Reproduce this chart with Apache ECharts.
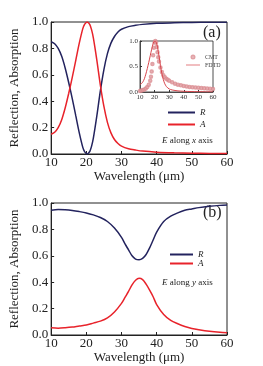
<!DOCTYPE html>
<html><head><meta charset="utf-8">
<script src="https://cdn.jsdelivr.net/npm/echarts@6/dist/echarts.min.js"></script>
<style>html,body{margin:0;padding:0;background:#fff}#c{width:263px;height:366px}</style>
</head><body><div id="c"></div>
<script>
// Panel (a): E along x axis
const aWave = [10,11,12,13,14,15,16,17,18,19,19.5,20,20.2,20.5,21,21.5,22,23,24,25,26,27,28,29,30,32,34,36,40,45,50,55,60];
const aR    = [0.85,0.835,0.80,0.74,0.65,0.54,0.42,0.29,0.16,0.05,0.018,0.003,0.0,0.004,0.02,0.06,0.12,0.29,0.48,0.64,0.76,0.84,0.89,0.925,0.945,0.965,0.975,0.982,0.99,0.994,0.997,0.998,0.999];
const aA    = [0.15,0.165,0.20,0.26,0.35,0.46,0.58,0.71,0.84,0.95,0.982,0.997,1.0,0.996,0.98,0.94,0.88,0.71,0.52,0.36,0.24,0.16,0.11,0.08,0.06,0.04,0.03,0.022,0.014,0.009,0.006,0.004,0.003];
// Inset: CMT points
const cmtWave = [10,11,12,13,14,15,16,17,17.5,18,18.5,19,19.5,20,20.5,21,21.5,22,22.5,23,24,25,26,27,28,29,30,32,34,36,38,40,42,44,46,48,50,52,54,56,58,60];
const cmtA    = [0.02,0.03,0.04,0.05,0.07,0.10,0.14,0.22,0.30,0.40,0.55,0.72,0.87,0.97,1.0,0.97,0.88,0.78,0.68,0.60,0.48,0.39,0.33,0.29,0.26,0.24,0.22,0.19,0.16,0.14,0.13,0.12,0.11,0.10,0.095,0.09,0.085,0.08,0.075,0.07,0.065,0.06];
// Panel (b): E along y axis
const bWave = [10,12,14,16,18,20,22,24,26,28,30,31,32,33,34,35,36,37,38,39,40,42,44,46,48,50,52,55,58,60];
const bR    = [0.945,0.95,0.948,0.943,0.935,0.925,0.91,0.89,0.86,0.81,0.74,0.69,0.645,0.60,0.575,0.57,0.58,0.61,0.66,0.72,0.78,0.86,0.90,0.925,0.945,0.955,0.965,0.975,0.982,0.985];
const bA    = [0.055,0.052,0.055,0.06,0.068,0.075,0.09,0.105,0.13,0.175,0.24,0.285,0.33,0.38,0.415,0.43,0.42,0.385,0.34,0.29,0.23,0.155,0.11,0.085,0.065,0.05,0.04,0.028,0.02,0.017];
const xTicks = [10,20,30,40,50,60];
const yTicks = [0.0,0.2,0.4,0.6,0.8,1.0];

const navy = '#23235e', red = '#e8232b', pink = '#d98a8e';
const serif = 'Liberation Serif';
const pairs = (xs, ys) => xs.map((x,i)=>[x, ys[i]]);

function xAx(gi, show){
  return {type:'value', gridIndex:gi, min:10, max:60, interval:10,
    name: show ? 'Wavelength (\u03bcm)' : '', nameLocation:'middle', nameGap:16,
    nameTextStyle:{fontFamily:serif, fontSize:13, color:'#222'},
    axisLine:{show:true, onZero:false, lineStyle:{color:'#222', width:1}},
    axisTick:{show:true, inside:true, length:3, lineStyle:{color:'#222'}},
    axisLabel:{fontFamily:serif, fontSize:13, color:'#222', margin:2},
    splitLine:{show:false}};
}
function yAx(gi){
  return {type:'value', gridIndex:gi, min:0, max:1, interval:0.2,
    name:'Reflection, Absorption', nameLocation:'middle', nameGap:22,
    nameTextStyle:{fontFamily:serif, fontSize:13, color:'#222'},
    axisLine:{show:true, lineStyle:{color:'#222', width:1}},
    axisTick:{show:true, inside:true, length:3, lineStyle:{color:'#222'}},
    axisLabel:{fontFamily:serif, fontSize:13, color:'#222', margin:3, formatter:v=>v.toFixed(1)},
    splitLine:{show:false}};
}

const chart = echarts.init(document.getElementById('c'), null, {renderer:'canvas'});
chart.setOption({
  animation:false,
  grid:[
    {left:48, right:36, top:22, bottom:212, show:true, borderColor:'#222', borderWidth:1, backgroundColor:'transparent'},
    {left:140, right:50, top:41, bottom:274, show:true, borderColor:'#222', borderWidth:0.8, backgroundColor:'transparent'},
    {left:48, right:36, top:203, bottom:31, show:true, borderColor:'#222', borderWidth:1, backgroundColor:'transparent'}
  ],
  xAxis:[
    xAx(0,true),
    {type:'value', gridIndex:1, min:10, max:60, interval:10,
      axisLine:{show:true, onZero:false, lineStyle:{color:'#333', width:0.8}},
      axisTick:{show:true, inside:true, length:2, lineStyle:{color:'#333'}},
      axisLabel:{fontFamily:serif, fontSize:7, color:'#333', margin:2}, splitLine:{show:false}},
    xAx(2,true)
  ],
  yAxis:[
    yAx(0),
    {type:'value', gridIndex:1, min:0, max:1, interval:0.5,
      axisLine:{show:true, lineStyle:{color:'#333', width:0.8}},
      axisTick:{show:true, inside:true, length:2, lineStyle:{color:'#333'}},
      axisLabel:{fontFamily:serif, fontSize:7, color:'#333', margin:2, formatter:v=>v.toFixed(1)}, splitLine:{show:false}},
    yAx(2)
  ],
  legend:[
    {orient:'vertical', left:163, top:103, itemWidth:27, itemHeight:2, itemGap:3, icon:'rect',
      data:['R','A'], textStyle:{fontFamily:serif, fontStyle:'italic', fontSize:9, color:'#222'}, selectedMode:false},
    {orient:'vertical', left:165, top:245, itemWidth:23, itemHeight:2, itemGap:0, icon:'rect',
      data:['R ','A '], textStyle:{fontFamily:serif, fontStyle:'italic', fontSize:9, color:'#222'}, selectedMode:false},
    {orient:'vertical', left:181, top:49, itemWidth:14, itemHeight:3, itemGap:2,
      data:[{name:'CMT', icon:'emptyCircle', itemStyle:{borderWidth:0.6}},{name:'FDTD', icon:'path://M0,0 L20,0 L20,1 L0,1 Z'}],
      textStyle:{fontFamily:serif, fontSize:6, color:'#444'}, selectedMode:false}
  ],
  series:[
    {name:'R', type:'line', xAxisIndex:0, yAxisIndex:0, data:pairs(aWave,aR), smooth:0.3, symbol:'none', lineStyle:{color:navy, width:1.5}, itemStyle:{color:navy}},
    {name:'A', type:'line', xAxisIndex:0, yAxisIndex:0, data:pairs(aWave,aA), smooth:0.3, symbol:'none', lineStyle:{color:red, width:1.5}, itemStyle:{color:red}},
    {name:'CMT', type:'scatter', xAxisIndex:1, yAxisIndex:1, data:pairs(cmtWave,cmtA), symbol:'emptyCircle', symbolSize:2.5, itemStyle:{color:pink, borderWidth:0.6}},
    {name:'FDTD', type:'line', xAxisIndex:1, yAxisIndex:1, data:pairs(aWave,aA), smooth:0.3, symbol:'none', lineStyle:{color:'#d8454c', width:1}, itemStyle:{color:'#d8454c'}},
    {name:'R ', type:'line', xAxisIndex:2, yAxisIndex:2, data:pairs(bWave,bR), smooth:0.3, symbol:'none', lineStyle:{color:navy, width:1.5}, itemStyle:{color:navy}},
    {name:'A ', type:'line', xAxisIndex:2, yAxisIndex:2, data:pairs(bWave,bA), smooth:0.3, symbol:'none', lineStyle:{color:red, width:1.5}, itemStyle:{color:red}}
  ],
  graphic:[
    {type:'text', left:203, top:25, style:{text:'(a)', font:'16px "Liberation Serif"', fill:'#222'}},
    {type:'text', left:203, top:205, style:{text:'(b)', font:'16px "Liberation Serif"', fill:'#222'}},
    {type:'text', left:162, top:136, style:{text:'{i|E} along {i|x} axis', rich:{i:{fontStyle:'italic', fontFamily:serif, fontSize:9}}, font:'9px "Liberation Serif"', fill:'#222'}},
    {type:'text', left:162, top:278, style:{text:'{i|E} along {i|y} axis', rich:{i:{fontStyle:'italic', fontFamily:serif, fontSize:9}}, font:'9px "Liberation Serif"', fill:'#222'}}
  ]
});
</script></body></html>
